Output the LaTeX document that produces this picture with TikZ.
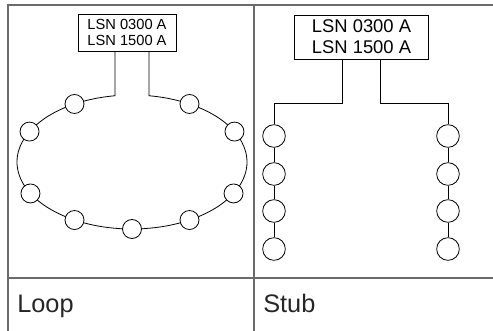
\documentclass[tikz,border=0pt]{standalone}
\usepackage{fontspec}
\setmainfont{Liberation Sans}
\usetikzlibrary{positioning,calc}
\tikzset{
	grid/.style = {draw=black!58, line width=1pt},
	wire/.style = {draw=black, line width=0.6pt},
	lsnbox/.style = {draw=black, line width=0.6pt, align=center, inner sep=0pt},
	lsn_s/.style = {lsnbox, minimum width=73.5pt, minimum height=27.75pt,
		font=\fontsize{11}{12.5}\selectfont},% loop box
	lsn_b/.style = {lsnbox, minimum width=101pt, minimum height=33pt,
		font=\fontsize{13.8}{16}\selectfont},% stub box
	dev_s/.style = {circle, draw=black, fill=white, line width=0.6pt,
		inner sep=0pt, minimum size=14.25pt},
	dev_b/.style = {circle, draw=black, fill=white, line width=0.6pt,
		inner sep=0pt, minimum size=17pt},
	celltext/.style = {anchor=base west, inner sep=0pt,
		font=\fontsize{19}{21}\selectfont, text=black!85}
}

\begin{document}
\begin{tikzpicture}[x=0.75pt,y=-0.75pt]
	\useasboundingbox (0,0) rectangle (493,331);
	% table
	\draw[grid] (8,331) -- (8,5) -- (493,5);
	\draw[grid] (254,5) -- (254,331);
	\draw[grid] (8,278) -- (493,278);
	\node[celltext] (loop) at (17,313) {Loop};
	\node[celltext] (stub) at (263,313) {Stub};
	
	% loop
	\node[lsn_s] (lbox) at (127,32.5) {LSN 0300 A\\LSN 1500 A};
	\coordinate (lc) at (132,162);
	\coordinate (la) at ($(lc)+(261.5:115 and 67)$);
	\coordinate (lb) at ($(lc)+(278.5:115 and 67)$);
	\draw[wire] (lbox.south -| la) -- (la)
		arc[start angle=261.5, end angle=-81.5, x radius=115, y radius=67]
		-- (lbox.south -| lb);
	\foreach \a [count=\i] in {28,60,90,120,152,207,240,300,333}
		\node[dev_s] (l\i) at ($(lc)+(\a:115 and 67)$) {};
	
	% stub
	\node[lsn_b] (rbox) at (361.5,37) {LSN 0300 A\\LSN 1500 A};
	\coordinate (sa) at (342,103);
	\coordinate (sb) at (380,103);
	\foreach \y [count=\i] in {136,174,211,249}{
		\node[dev_b] (s\i) at (274,\y) {};
		\node[dev_b] (t\i) at (448,\y) {};
	}
	\draw[wire] (rbox.south -| sa) -- (sa) -| (s1);
	\draw[wire] (rbox.south -| sb) -- (sb) -| (t1);
	\draw[wire] (s1) -- (s2) -- (s3) -- (s4);
	\draw[wire] (t1) -- (t2) -- (t3) -- (t4);
\end{tikzpicture}
\end{document}
